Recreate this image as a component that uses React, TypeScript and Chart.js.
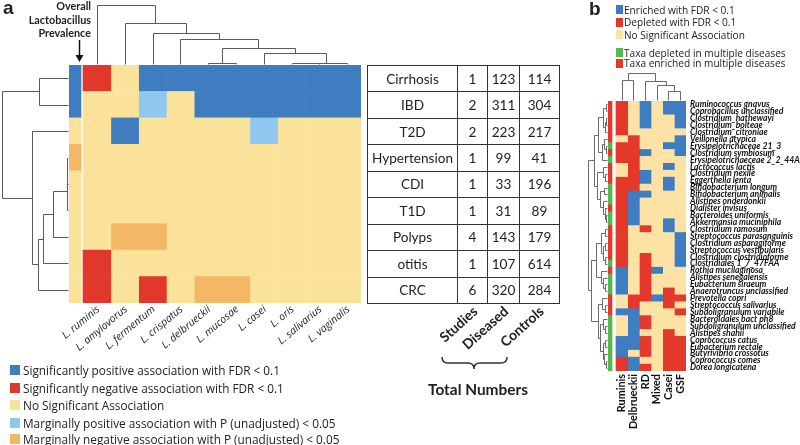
import React, { useEffect, useRef } from "react";
import { Chart, registerables } from "chart.js";
Chart.register(...registerables);

// ---------------- Panel a data ----------------
const diseases = ["Cirrhosis", "IBD", "T2D", "Hypertension", "CDI", "T1D", "Polyps", "otitis", "CRC"];
const species = ["L. ruminis", "L. amylovorus", "L. fermentum", "L. crispatus", "L. delbrueckii", "L. mucosae", "L. casei", "L. oris", "L. salivarius", "L. vaginalis"];
// one letter per species: P sig. positive, N sig. negative, 0 none, p marginal positive, n marginal negative
const associationRows = [
  "N0PPPPPPPP",
  "00p0PPPPPP",
  "0P0000p000",
  "0000000000",
  "0000000000",
  "0000000000",
  "0nn0000000",
  "N000000000",
  "N0N0nn0000",
];
const prevalenceRow = ["P", "P", "0", "n", "0", "0", "0", "0", "0"];
const studies = [1, 2, 2, 1, 1, 1, 4, 1, 6];
const diseased = [123, 311, 223, 99, 33, 31, 143, 107, 320];
const controls = [114, 304, 217, 41, 196, 89, 179, 614, 284];
const tableHeaders = ["Studies", "Diseased", "Controls"];
const legendA = [
  ["P", "Significantly positive association with FDR < 0.1"],
  ["N", "Significantly negative association with FDR < 0.1"],
  ["0", "No Significant Association"],
  ["p", "Marginally positive association with P (unadjusted) < 0.05"],
  ["n", "Marginally negative association with P (unadjusted) < 0.05"],
];

// dendrograms: node(height, ...children), leaves are indices
type Tree = number | { h: number; c: Tree[] };
const node = (h: number, ...c: Tree[]): Tree => ({ h, c });
const rowTreeA = node(67, node(29, 0, 1), node(37, 2, node(30, 8, node(25, 7, node(15, 6, node(1, node(1, 3, 4), 5))))));
const colTreeA = node(59, 0, node(41, 1, node(31, 2, node(25, 3, node(16, node(1, 4, 5), node(11, 6, node(1, node(1, 7, 8), 9)))))));

// ---------------- Panel b data ----------------
const taxa = [
  "Ruminococcus gnavus", "Coprobacillus unclassified", "Clostridium_hathewayi", "Clostridium_bolteae",
  "Clostridium_citroniae", "Veillonella atypica", "Erysipelotrichaceae 21_3", "Clostridium symbiosum",
  "Erysipelotrichaeceae 2_2_44A", "Lactococcus lactis", "Clostridium nexile", "Eggerthella lenta",
  "Bifidobacterium longum", "Bifidobacterium animalis", "Alistipes onderdonkii", "Dialister invisus",
  "Bacteroides uniformis", "Akkermansia muciniphila", "Clostridium ramosum", "Streptococcus parasanguinis",
  "Clostridium asparagiforme", "Streptococcus vestibularis", "Clostridium clostridioforme", "Clostridiales 1_7_47FAA",
  "Rothia mucilaginosa", "Alistipes senegalensis", "Eubacterium siraeum", "Anaerotruncus unclassified",
  "Prevotella copri", "Streptococcus salivarius", "Subdoligranulum variabile", "Bacteroidales bact ph8",
  "Subdoligranulum unclassified", "Alistipes shahii", "Coprococcus catus", "Eubacterium rectale",
  "Butyrivibrio crossotus", "Coprococcus comes", "Dorea longicatena",
];
const studyGroups = ["Ruminis", "Delbrueckii", "RD", "Mixed", "Casei", "GSF"];
// E enriched, D depleted, 0 none (one letter per study group)
const taxaRows = [
  "D0E0EE", "D0E0EE", "D0E00E", "D0E00E", "D00000", "0D000E", "DD00EE", "DDE00E",
  "DD0000", "0D00E0", "0DE000", "DDE0E0", "DD00E0", "DEE000", "DE0000", "DE0000",
  "DE0000", "DE00E0", "D0D0E0", "D0000E", "D0000E", "D0000E", "D0D00E", "D0D00E",
  "E0DE00", "E0D000", "E0D000", "E0D0D0", "0DDEDD", "0D00D0", "EE000D", "0ED000",
  "0ED000", "0E00D0", "EED0DD", "EED0DD", "E0D0DD", "DE00DD", "DED0DD",
];
// g: depleted in multiple diseases, r: enriched in multiple diseases
const multiDisease = "rrrrrrgrgrrrgggrggrrrrrgrgggrrrgggggggg".split("");
const legendB1 = [["E", "Enriched with FDR < 0.1"], ["D", "Depleted with FDR < 0.1"], ["0", "No Significant Association"]];
const legendB2 = [["g", "Taxa depleted in multiple diseases"], ["r", "Taxa enriched in multiple diseases"]];

const rowTreeB = node(
  40,
  node(28,
    node(18, node(8, node(3, 0, 1), node(5, node(2, 2, 3), 4)), node(10, node(6, 5, node(3, 6, 7)), 8)),
    node(22, node(9, 9, node(4, 10, 11)), node(14, node(6, 12, 13), node(9, 14, node(5, 15, node(3, 16, 17)))))
  ),
  node(33,
    node(24, node(12, node(5, 18, 19), node(8, node(4, 20, 21), node(4, 22, 23))), node(13, 24, node(8, 25, node(4, 26, 27)))),
    node(20, node(10, 28, node(5, 29, 30)), node(14, node(8, 31, node(4, 32, 33)), node(9, node(4, 34, 35), node(6, 36, node(3, 37, 38)))))
  )
);
const colTreeB = node(26, node(19, 0, 1), node(18, 2, node(14, 3, node(9, 4, 5))));

// ---------------- colours ----------------
const COL_A: Record<string, string> = { P: "#3F7DC0", N: "#E2382B", "0": "#FBE29B", p: "#8FC7EE", n: "#F4B766" };
const COL_B: Record<string, string> = { E: "#3E7DC2", D: "#E4382B", "0": "#FCE3A5", g: "#53B94F", r: "#E4382B" };

// layout constants (positions, not data)
const PREV_START = -0.504;
const PREV_END = -0.072;
const ANNOT_START = -0.684;
const ANNOT_END = -0.342;
const LABEL_ROT_A = 40;

// font sizing: fit a text to the width it has in the reference
let mctx: CanvasRenderingContext2D | null = null;
function fit(text: string, family: string, width: number, weight = "normal", style = "normal") {
  if (!mctx) mctx = document.createElement("canvas").getContext("2d");
  mctx!.font = `${style} ${weight} 100px "${family}"`;
  const w = mctx!.measureText(text).width;
  return Math.round((1000 * width) / w) / 10;
}

function drawDendro(
  ctx: CanvasRenderingContext2D,
  tree: Tree,
  leafPos: (i: number) => number,
  depth: (h: number) => number,
  vertical: boolean
) {
  const px = (v: number) => Math.round(v) + 0.5;
  const rec = (t: Tree): { p: number; h: number } => {
    if (typeof t === "number") return { p: leafPos(t), h: 0 };
    const kids = t.c.map(rec);
    const ps = kids.map((k) => k.p);
    const lo = Math.min(...ps);
    const hi = Math.max(...ps);
    const d = depth(t.h);
    ctx.beginPath();
    for (const k of kids) {
      const d0 = depth(k.h);
      if (vertical) {
        ctx.moveTo(px(k.p), px(d0));
        ctx.lineTo(px(k.p), px(d));
      } else {
        ctx.moveTo(px(d0), px(k.p));
        ctx.lineTo(px(d), px(k.p));
      }
    }
    if (vertical) {
      ctx.moveTo(px(lo), px(d));
      ctx.lineTo(px(hi), px(d));
    } else {
      ctx.moveTo(px(d), px(lo));
      ctx.lineTo(px(d), px(hi));
    }
    ctx.stroke();
    return { p: (lo + hi) / 2, h: t.h };
  };
  rec(tree);
}

function makePluginA(labelSize: number) {
  return {
    id: "dendroA",
    afterDatasetsDraw(chart: any) {
      const { ctx, chartArea, scales } = chart;
      const x = scales.x;
      const y = scales.y;
      ctx.save();
      ctx.strokeStyle = "#5a5a5a";
      ctx.lineWidth = 1;
      const rr = (rowTreeA as any).h;
      drawDendro(ctx, rowTreeA, (i) => y.getPixelForValue(i), (h) => chartArea.left - 1 - (h / rr) * (chartArea.left - 3), false);
      const rc = (colTreeA as any).h;
      drawDendro(ctx, colTreeA, (i) => x.getPixelForValue(i + 0.5), (h) => chartArea.top - 1 - (h / rc) * (chartArea.top - 6), true);
      // rotated species labels under each column
      ctx.font = `italic normal ${labelSize}px "Open Sans"`;
      ctx.fillStyle = "#222";
      ctx.textAlign = "right";
      ctx.textBaseline = "top";
      species.forEach((s, i) => {
        ctx.save();
        ctx.translate(x.getPixelForValue(i + 0.5) - 2, chartArea.bottom + 1);
        ctx.rotate((-LABEL_ROT_A * Math.PI) / 180);
        ctx.fillText(s, 0, 0);
        ctx.restore();
      });
      ctx.restore();
    },
  };
}

const dendroPluginB = {
  id: "dendroB",
  afterDatasetsDraw(chart: any) {
    const { ctx, chartArea, scales } = chart;
    const x = scales.x;
    const y = scales.y;
    ctx.save();
    ctx.strokeStyle = "#6a6a6a";
    ctx.lineWidth = 1;
    const rr = (rowTreeB as any).h;
    drawDendro(ctx, rowTreeB, (i) => y.getPixelForValue(i), (h) => chartArea.left - 1 - (h / rr) * (chartArea.left - 4), false);
    const rc = (colTreeB as any).h;
    drawDendro(ctx, colTreeB, (i) => x.getPixelForValue(i + 0.5), (h) => chartArea.top - 1 - (h / rc) * (chartArea.top - 8), true);
    ctx.restore();
  },
};

function HeatmapA() {
  const ref = useRef<HTMLCanvasElement>(null);
  useEffect(() => {
    const datasets: any[] = species.map((_, j) => ({
      data: diseases.map(() => [j, j + 1]),
      backgroundColor: diseases.map((_, i) => COL_A[associationRows[i][j]]),
    }));
    datasets.push({
      data: diseases.map(() => [PREV_START, PREV_END]),
      backgroundColor: prevalenceRow.map((c) => COL_A[c]),
    });
    datasets.forEach((d) => {
      d.borderWidth = 0;
      d.barPercentage = 1;
      d.categoryPercentage = 1;
      d.grouped = false;
    });
    const labelSize = fit("L. amylovorus", "Open Sans", 64, "normal", "italic");
    const chart = new Chart(ref.current!, {
      type: "bar",
      data: { labels: diseases, datasets },
      plugins: [makePluginA(labelSize)],
      options: {
        indexAxis: "y",
        animation: false,
        responsive: false,
        events: [],
        layout: { padding: { left: 69, top: 65, right: 4, bottom: 57 } },
        plugins: { legend: { display: false }, tooltip: { enabled: false } },
        scales: {
          x: { type: "linear", display: false, min: PREV_START, max: species.length },
          y: { display: false, grid: { display: false } },
        },
      } as any,
    });
    return () => chart.destroy();
  }, []);
  return <canvas ref={ref} width={365} height={360} style={{ position: "absolute", left: 0, top: 0 }} />;
}

function HeatmapB() {
  const ref = useRef<HTMLCanvasElement>(null);
  useEffect(() => {
    const datasets: any[] = studyGroups.map((_, j) => ({
      data: taxa.map(() => [j, j + 1]),
      backgroundColor: taxa.map((_, i) => COL_B[taxaRows[i][j]]),
    }));
    datasets.push({
      data: taxa.map(() => [ANNOT_START, ANNOT_END]),
      backgroundColor: multiDisease.map((c) => COL_B[c]),
    });
    datasets.forEach((d) => {
      d.borderWidth = 0;
      d.barPercentage = 1;
      d.categoryPercentage = 1;
      d.grouped = false;
    });
    const taxaSize = fit("Ruminococcus gnavus", "Lato", 80, "bold", "italic");
    const groupSize = fit("Delbrueckii", "Lato", 55, "bold");
    const chart = new Chart(ref.current!, {
      type: "bar",
      data: { labels: taxa, datasets },
      plugins: [dendroPluginB],
      options: {
        indexAxis: "y",
        animation: false,
        responsive: false,
        events: [],
        layout: { padding: { left: 23, top: 35, right: 0, bottom: 0 } },
        plugins: { legend: { display: false }, tooltip: { enabled: false } },
        scales: {
          x: {
            type: "linear",
            min: ANNOT_START,
            max: studyGroups.length,
            grid: { display: false, drawTicks: false },
            border: { display: false },
            afterBuildTicks: (s: any) => {
              s.ticks = studyGroups.map((_, i) => ({ value: i + 0.5 }));
            },
            afterFit: (s: any) => {
              s.height = 74;
            },
            ticks: {
              autoSkip: false,
              minRotation: 90,
              maxRotation: 90,
              padding: 3,
              color: "#111",
              font: { family: "Lato", weight: "bold", size: groupSize },
              callback: (_v: any, i: number) => studyGroups[i],
            },
          },
          y: {
            position: "right",
            grid: { display: false, drawTicks: false },
            border: { display: false },
            afterFit: (s: any) => {
              s.width = 114;
            },
            ticks: {
              autoSkip: false,
              padding: 4,
              color: "#111",
              font: { family: "Lato", weight: "bold", style: "italic", size: taxaSize },
            },
          },
        },
      } as any,
    });
    return () => chart.destroy();
  }, []);
  return <canvas ref={ref} width={215} height={379} style={{ position: "absolute", left: 585, top: 66 }} />;
}

const abs = (x: number, y: number, extra: any = {}): any => ({ position: "absolute", left: x, top: y, whiteSpace: "nowrap", ...extra });

export default function App() {
  const legendASize = fit(legendA[0][1], "Open Sans", 256);
  const legendBSize = fit(legendB2[0][1], "Open Sans", 162);
  const tableSize = fit("Hypertension", "Lato", 81);
  const totalSize = fit("Total Numbers", "Lato", 100, "bold");
  const overallSize = fit("Lactobacillus", "Lato", 62, "bold");
  const headerSize = fit("Diseased", "Lato", 56, "bold");
  const cell: any = { border: "1px solid #333", textAlign: "center", padding: 0, verticalAlign: "middle" };
  return (
    <div style={{ position: "fixed", left: 0, top: 0, width: 800, height: 445, background: "#fff", overflow: "hidden", fontFamily: "Lato", color: "#222" }}>
      <HeatmapA />
      <HeatmapB />
      {/* panel a labels */}
      <div style={abs(3, -3, { fontFamily: "Liberation Sans", fontWeight: "bold", fontSize: 19 })}>a</div>
      <div style={abs(0, -1, { width: 91, textAlign: "right", fontWeight: "bold", fontSize: overallSize, lineHeight: "13.5px" })}>
        Overall
        <br />
        Lactobacillus
        <br />
        Prevalence
      </div>
      <svg width={800} height={445} style={{ position: "absolute", left: 0, top: 0 }}>
        <line x1={79.5} y1={40} x2={79.5} y2={57} stroke="#111" strokeWidth={1.5} />
        <path d="M75.5,55 L79.5,62 L83.5,55 Z" fill="#111" />
        <path d="M442,357 Q442,363 448,363 L468,363 Q474,363 474,369 Q474,363 480,363 L501,363 Q507,363 507,357" fill="none" stroke="#333" strokeWidth={1.5} />
      </svg>
      {/* table */}
      <table style={{ position: "absolute", left: 367, top: 65, width: 192, height: 239, borderCollapse: "collapse", tableLayout: "fixed", fontFamily: "Lato", fontSize: tableSize, color: "#222" }}>
        <colgroup>
          <col style={{ width: 90 }} />
          <col style={{ width: 30 }} />
          <col style={{ width: 32 }} />
          <col style={{ width: 40 }} />
        </colgroup>
        <tbody>
          {diseases.map((d, i) => (
            <tr key={d}>
              <td style={cell}>{d}</td>
              <td style={cell}>{studies[i]}</td>
              <td style={cell}>{diseased[i]}</td>
              <td style={cell}>{controls[i]}</td>
            </tr>
          ))}
        </tbody>
      </table>
      {tableHeaders.map((h, i) => {
        const ax = [475, 506, 541][i];
        return (
          <div key={h} style={{ position: "absolute", left: ax, top: 309, width: 0, height: 0 }}>
            <div style={{ position: "absolute", right: 0, top: -9, height: 18, lineHeight: "18px", fontWeight: "bold", fontSize: headerSize, whiteSpace: "nowrap", transformOrigin: "right center", transform: "rotate(-42deg)" }}>{h}</div>
          </div>
        );
      })}
      <div style={abs(378, 380, { width: 200, textAlign: "center", fontWeight: "bold", fontSize: totalSize, lineHeight: "18px" })}>Total Numbers</div>
      {/* legend a */}
      {legendA.map(([c, t], i) => {
        const yc = [370, 387.5, 405, 422.5, 439][i];
        return (
          <React.Fragment key={t}>
            <div style={abs(10, yc - 5, { width: 10, height: 10, background: COL_A[c] })} />
            <div style={abs(23, yc - 8, { fontFamily: "Open Sans", fontSize: legendASize, lineHeight: "16px", color: "#222" })}>{t}</div>
          </React.Fragment>
        );
      })}
      {/* panel b labels */}
      <div style={abs(589, -2, { fontFamily: "Liberation Sans", fontWeight: "bold", fontSize: 19 })}>b</div>
      {legendB1.map(([c, t], i) => {
        const yc = [9.5, 22, 34.5][i];
        return (
          <React.Fragment key={t}>
            <div style={abs(616, yc - 4.5, { width: 7, height: 9, background: COL_B[c] })} />
            <div style={abs(624, yc - 7, { fontFamily: "Open Sans", fontSize: legendBSize, lineHeight: "14px", color: "#222" })}>{t}</div>
          </React.Fragment>
        );
      })}
      {legendB2.map(([c, t], i) => {
        const yc = [52.5, 63][i];
        return (
          <React.Fragment key={t}>
            <div style={abs(616, yc - 4.5, { width: 7, height: 9, background: COL_B[c] })} />
            <div style={abs(624, yc - 7, { fontFamily: "Open Sans", fontSize: legendBSize, lineHeight: "14px", color: "#222" })}>{t}</div>
          </React.Fragment>
        );
      })}
    </div>
  );
}
